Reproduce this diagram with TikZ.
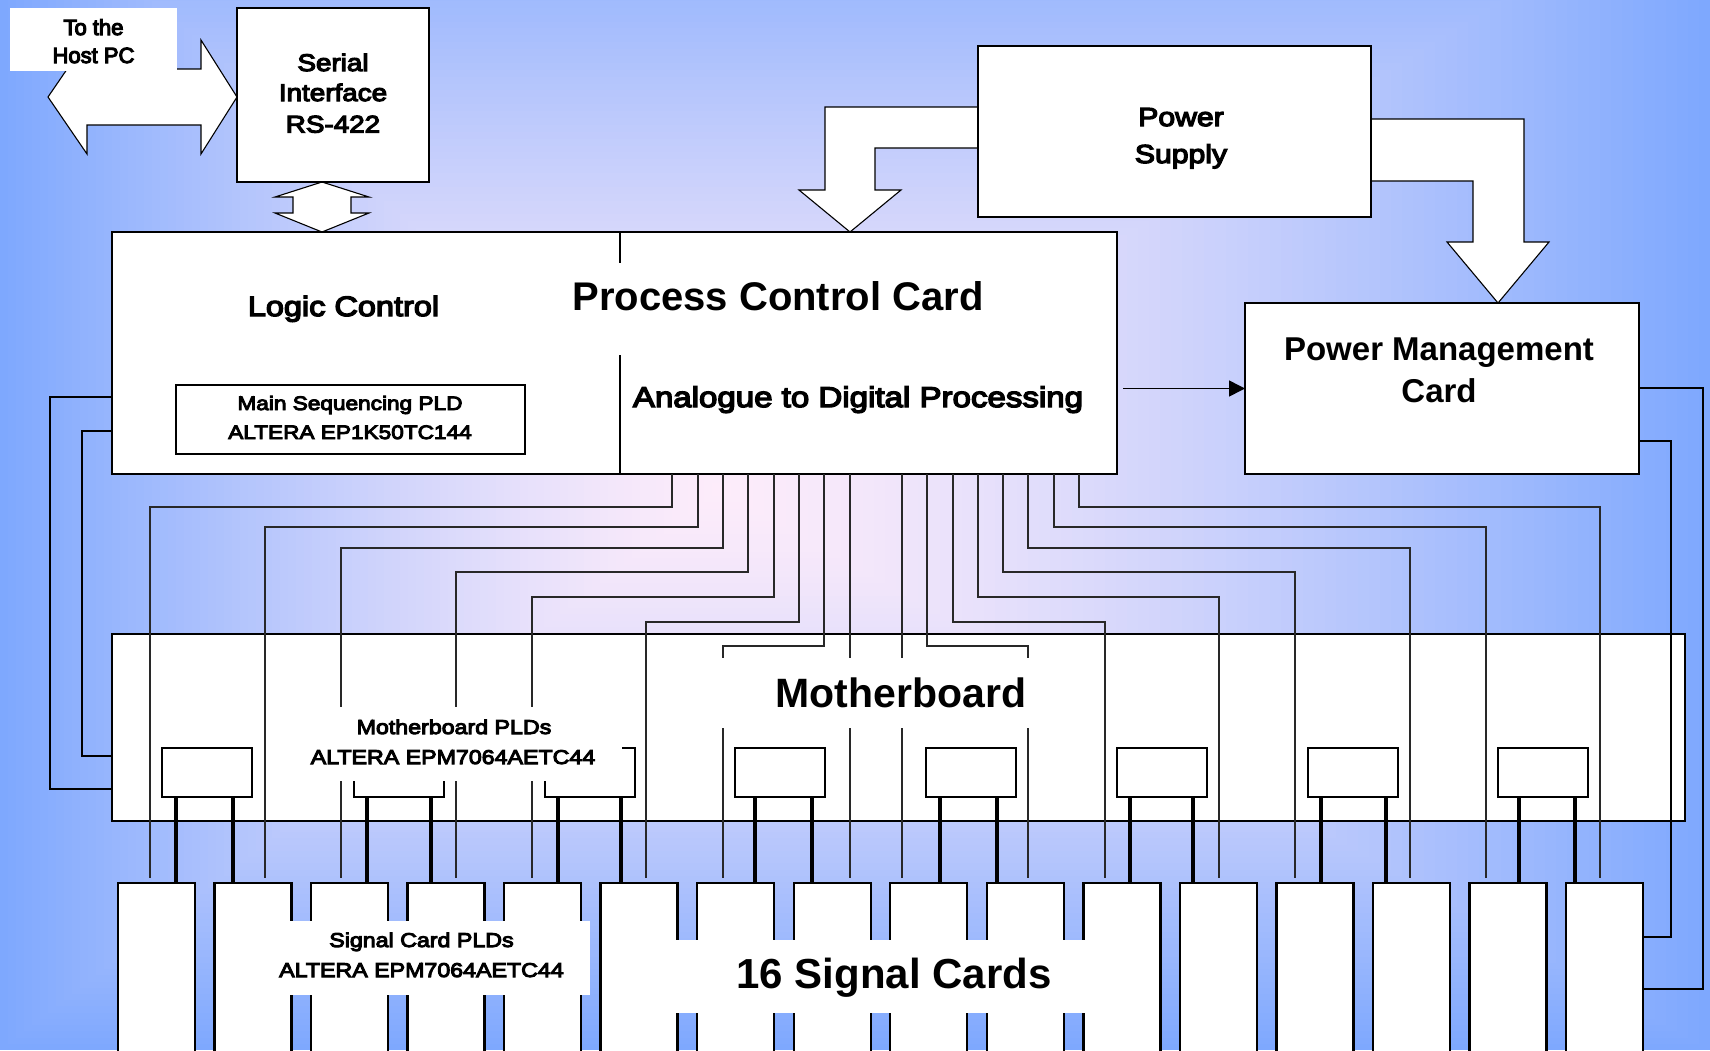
\documentclass[tikz,border=0pt]{standalone}
\usepackage{fontspec}
\setmainfont{Liberation Sans}
\newfontfamily\widefont{Liberation Sans}[FakeStretch=1.16,FakeBold=5]
\newfontfamily\plainfont{Liberation Sans}[FakeBold=5]
\newfontfamily\heavyfont{Liberation Sans}
\usetikzlibrary{arrows.meta}
\pgfdeclarelayer{backdrop}
\pgfdeclarelayer{arrows}
\pgfsetlayers{backdrop,arrows,main}
\definecolor{bgout}{RGB}{126,168,254}
\definecolor{bgin}{RGB}{253,236,250}
\definecolor{wirecol}{RGB}{40,40,40}
\tikzset{
  box/.style={draw, fill=white, line width=2.8pt, inner sep=0pt, outer sep=0pt, anchor=north west},
  cardbox/.style={box, line width=2.4pt, minimum width=77pt, minimum height=180pt},
  pldbox/.style={box, line width=2.4pt, minimum width=90pt, minimum height=49pt},
  patch/.style={fill=white, inner sep=0pt, outer sep=0pt, anchor=north west},
  wire/.style={draw=wirecol, line width=1.2pt},
  leg/.style={line width=3.4pt},
  feed/.style={line width=2.8pt},
  blockarrow/.style={draw, fill=white, line width=1.1pt, line join=miter},
  txt/.style={anchor=base, inner sep=0pt, outer sep=0pt},
  rg/.style={font={\widefont\fontsize{#1}{#1}\selectfont}},
  pl/.style={font={\plainfont\fontsize{#1}{#1}\selectfont}},
  bd/.style={font={\heavyfont\bfseries\fontsize{#1}{#1}\selectfont}},
}
\begin{document}
\begin{tikzpicture}[x=1pt,y=-1pt]
\useasboundingbox (0,0) rectangle (1710,1050);
\clip (0,0) rectangle (1710,1050);

% backdrop: nested rectangles fading from blue edges to a pale centre
\begin{pgfonlayer}{backdrop}
\fill[bgout] (0,0) rectangle (1710,1050);
\foreach \k in {0,...,89}{
  \pgfmathsetmacro\t{1-\k/90}
  \pgfmathsetmacro\p{100*(\t^1.35)}
  \fill[bgout!\p!bgin] ({720-720*\t},{490-620*\t}) rectangle ({720+990*\t},{490+560*\t});
}
\end{pgfonlayer}

% main blocks
\node[box, minimum width=192pt, minimum height=174pt] (serial) at (237,8) {};
\node[box, minimum width=1005pt, minimum height=242pt] (pcc) at (112,232) {};
\node[box, line width=2.4pt, minimum width=393pt, minimum height=171pt] (ps) at (978,46) {};
\node[box, line width=2.4pt, minimum width=394pt, minimum height=171pt] (pmc) at (1245,303) {};
\node[box, minimum width=1573pt, minimum height=187pt] (mb) at (112,634) {};
\node[box, line width=1.2pt, minimum width=349pt, minimum height=69pt] (seq) at (176,385) {};
\node[patch, minimum width=167pt, minimum height=63pt] (host) at (10,8) {};

% divider inside the process control card
\draw[line width=2.4pt] (pcc.north -| 620,0) -- (620,263) (620,355) -- (pcc.south -| 620,0);

% signal cards and motherboard PLDs
\foreach \i in {1,...,16}{
  \pgfmathsetmacro\xl{118+(\i-1)*96.53}
  \node[cardbox] (c\i) at (\xl,883) {};
}
\foreach \x [count=\i] in {162,354,545,735,926,1117,1308,1498}{
  \node[pldbox] (m\i) at (\x,748) {};
}

% signal lines from the process control card to each signal card
\foreach \s/\b/\e/\c in {672/507/150/1, 698/527/265/2, 723/548/341/3, 748/572/456/4,
                        774/597/532/5, 799/622/646/6, 824/646/723/7, 850/600/850/8,
                        902/600/902/9, 927/646/1028/10, 953/622/1105/11, 978/597/1219/12,
                        1003/572/1295/13, 1028/548/1410/14, 1054/527/1486/15, 1079/507/1600/16}{
  \draw[wire, shorten >=5pt] (pcc.south -| \s,0) |- (\e,\b) -- (c\c.north -| \e,0);
}

% PLD legs down to the signal cards
\foreach \x/\p/\c in {176/1/1, 233/1/2, 367/2/3, 431/2/4, 558/3/5, 621/3/6, 755/4/7, 812/4/8,
                      940/5/9, 997/5/10, 1130/6/11, 1193/6/12, 1321/7/13, 1386/7/14, 1519/8/15, 1575/8/16}{
  \draw[leg] (m\p.south -| \x,0) -- (c\c.north -| \x,0);
}

% control links to the motherboard
\draw[feed] (pcc.west |- 0,397) -| (50,789) -- (mb.west |- 0,789);
\draw[feed] (pcc.west |- 0,431) -| (82,756) -- (mb.west |- 0,756);

% power management outputs to the signal cards
\draw[feed] (pmc.east |- 0,388) -| (1703,989) -- (c16.east |- 0,989);
\draw[feed] (pmc.east |- 0,441) -| (1671,937) -- (c16.east |- 0,937);

% process control card to power management card
\draw[line width=1.5pt, -{Triangle[length=16pt,width=16pt]}] ([xshift=6pt]pcc.east |- pmc.west) -- (pmc.west);

% white patches behind the labels
\node[patch, minimum width=322pt, minimum height=74pt] (mbpldpatch) at (300,707) {};
\node[patch, minimum width=443pt, minimum height=70pt] (mbpatch) at (655,658) {};
\node[patch, minimum width=328pt, minimum height=74pt] (scpldpatch) at (262,921) {};
\node[patch, minimum width=460pt, minimum height=73pt] (scpatch) at (640,940) {};

% block arrows
\begin{pgfonlayer}{arrows}
\draw[blockarrow] (48,97) -- (87,40) -- (87,69) -- (201,69) -- (201,40) -- (serial.west |- 0,97)
  -- (201,154) -- (201,125) -- (87,125) -- (87,154) -- cycle;
\draw[blockarrow] (serial.south -| 322,0) -- (369,197) -- (351,197) -- (351,213) -- (369,213)
  -- (pcc.north -| 322,0) -- (275,213) -- (293,213) -- (293,197) -- (275,197) -- cycle;
\draw[blockarrow] (ps.west |- 0,107) -- (825,107) -- (825,190) -- (799,190) -- (pcc.north -| 850,0)
  -- (901,190) -- (875,190) -- (875,148) -- (ps.west |- 0,148);
\draw[blockarrow] (ps.east |- 0,119) -- (1524,119) -- (1524,242) -- (1549,242) -- (pmc.north -| 1498,0)
  -- (1447,242) -- (1473,242) -- (1473,181) -- (ps.east |- 0,181);
\end{pgfonlayer}

% texts
\node[txt, pl=22pt] (host1) at (93.5,35) {To the};
\node[txt, pl=22pt] (host2) at (93.5,63) {Host PC};
\node[txt, rg=24pt] (ser1) at (333,71) {Serial};
\node[txt, rg=24pt] (ser2) at (333,101) {Interface};
\node[txt, rg=24pt] (ser3) at (333,132.5) {RS-422};
\node[txt, rg=26pt] (ps1) at (1181,126) {Power};
\node[txt, rg=26pt] (ps2) at (1181,163) {Supply};
\node[txt, rg=28pt] (logic) at (343.5,316) {Logic Control};
\node[txt, bd=40pt] (pcctitle) at (778,310.7) {Process Control Card};
\node[txt, rg=19.5pt] (seq1) at (350,410) {Main Sequencing PLD};
\node[txt, rg=19.5pt] (seq2) at (350,439) {ALTERA EP1K50TC144};
\node[txt, rg=28.5pt] (adc) at (858,407) {Analogue to Digital Processing};
\node[txt, bd=33pt] (pmc1) at (1439,360) {Power Management};
\node[txt, bd=33pt] (pmc2) at (1439,402) {Card};
\node[txt, rg=20pt] (mbpld1) at (454,734) {Motherboard PLDs};
\node[txt, rg=20pt] (mbpld2) at (453,764) {ALTERA EPM7064AETC44};
\node[txt, bd=41pt] (mbtitle) at (901,707) {Motherboard};
\node[txt, rg=20pt] (scpld1) at (421.5,947) {Signal Card PLDs};
\node[txt, rg=20pt] (scpld2) at (421.5,977) {ALTERA EPM7064AETC44};
\node[txt, bd=42pt] (sctitle) at (894,988) {16 Signal Cards};
\end{tikzpicture}
\end{document}
